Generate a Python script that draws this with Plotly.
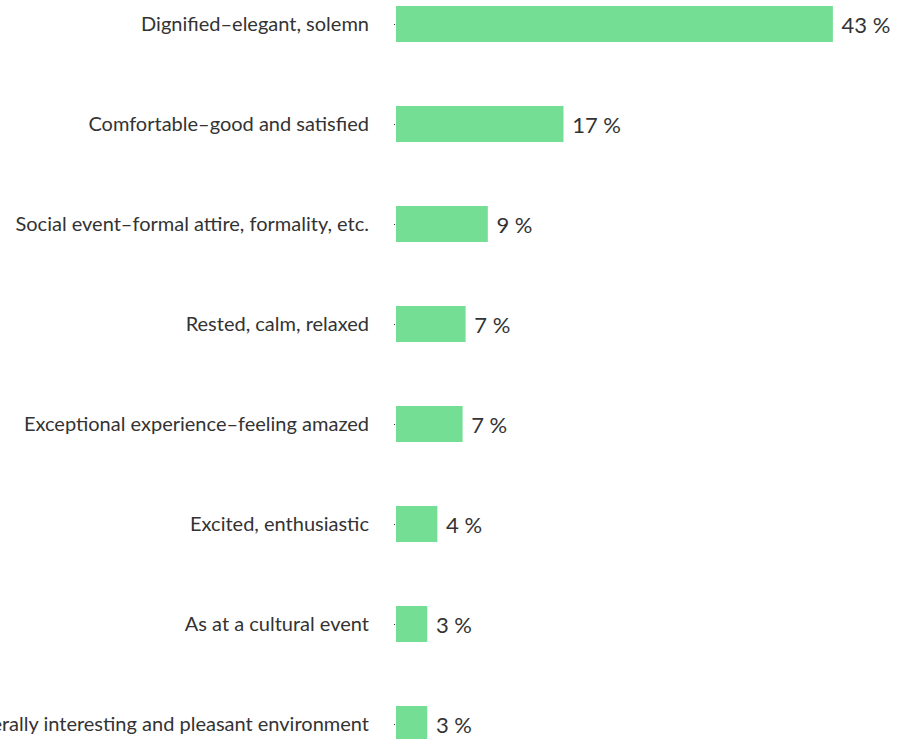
import plotly.graph_objects as go

# Survey responses: how the setting made people feel (share of respondents, %)
categories = [
    "Dignified\u2013elegant, solemn",
    "Comfortable\u2013good and satisfied",
    "Social event\u2013formal attire, formality, etc.",
    "Rested, calm, relaxed",
    "Exceptional experience\u2013feeling amazed",
    "Excited, enthusiastic",
    "As at a cultural event",
    "Generally interesting and pleasant environment",
]
shares = [43.3, 16.6, 9.1, 6.9, 6.6, 4.1, 3.1, 3.1]

BAR_COLOR = "#74DE94"
TEXT_COLOR = "#333333"
FONT = "Lato, 'Noto Sans', sans-serif"

fig = go.Figure(
    go.Bar(
        x=shares,
        y=categories,
        orientation="h",
        marker=dict(color=BAR_COLOR, line=dict(width=0)),
        texttemplate="\u00a0%{x:.0f} %",
        textposition="outside",
        cliponaxis=False,
        textfont=dict(family=FONT, size=22, color=TEXT_COLOR),
        hoverinfo="skip",
    )
)

fig.update_layout(
    width=903,
    height=739,
    margin=dict(l=396, r=0, t=0, b=0, autoexpand=False),
    paper_bgcolor="white",
    plot_bgcolor="white",
    bargap=0.64,
    showlegend=False,
    font=dict(family=FONT, color=TEXT_COLOR),
)

fig.update_xaxes(
    range=[0, 50.25],
    visible=False,
    showgrid=False,
    zeroline=False,
    automargin=False,
)

fig.update_yaxes(
    categoryorder="array",
    categoryarray=categories,
    range=[7.15, -0.24],
    automargin=False,
    showgrid=False,
    zeroline=False,
    showline=False,
    ticks="outside",
    ticklen=1,
    tickwidth=1,
    tickcolor="#333333",
    ticklabelstandoff=21,
    tickfont=dict(family=FONT, size=20, color=TEXT_COLOR),
)

fig.write_html("out.html")
